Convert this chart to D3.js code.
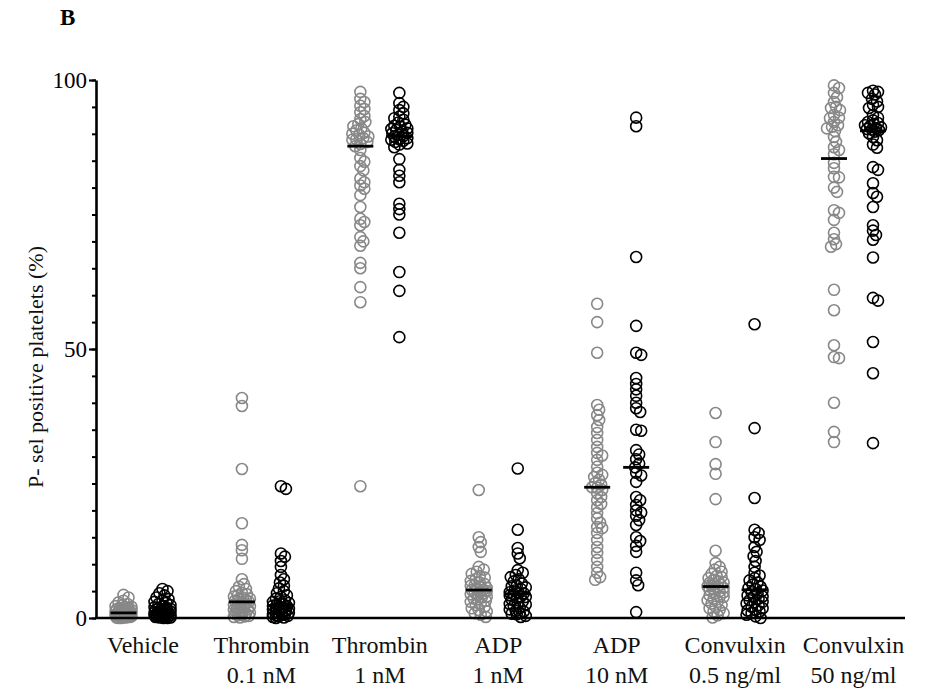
<!DOCTYPE html>
<html>
<head>
<meta charset="utf-8">
<script src="https://cdn.jsdelivr.net/npm/d3@7"></script>
<style>
  body { margin: 0; background: #fff; }
  svg text { font-family: "Times New Roman", Tinos, "Liberation Serif", "DejaVu Serif", serif; }
</style>
</head>
<body>
<svg width="925" height="693"></svg>
<script>
// categories along the x axis (two text lines each)
const categories = ["Vehicle", "Thrombin 0.1", "Thrombin 1", "ADP 1", "ADP 10", "Convulxin 0.5", "Convulxin 50"];
const labelLine1 = ["Vehicle", "Thrombin", "Thrombin", "ADP", "ADP", "Convulxin", "Convulxin"];
const labelLine2 = ["", "0.1 nM", "1 nM", "1 nM", "10 nM", "0.5 ng/ml", "50 ng/ml"];
const groups = ["gray", "black"];
const yTicks = [0, 50, 100];

// % P-selectin positive platelets
const grayValues = [
  [4.3, 3.8, 3.2, 2.9, 2.6, 2.4, 2.2, 2.0, 1.9, 1.8, 1.7, 1.6, 1.5, 1.4, 1.3, 1.2, 1.1, 1.0, 1.0, 0.9, 0.9, 0.8, 0.8, 0.7, 0.7, 0.6, 0.6, 0.5, 0.5, 0.4, 0.4, 0.3, 0.3, 0.2, 0.2, 0.1, 0.1, 0.0, 0.0, 1.5, 2.1, 1.2, 0.5, 0.3],
  [40.9, 39.4, 27.7, 17.6, 13.6, 12.6, 11.0, 7.2, 6.3, 5.8, 5.4, 5.0, 4.7, 4.4, 4.2, 4.0, 3.8, 3.6, 3.4, 3.2, 3.0, 3.0, 2.8, 2.6, 2.4, 2.2, 2.0, 1.9, 1.8, 1.6, 1.4, 1.3, 1.2, 1.0, 0.9, 0.8, 0.6, 0.5, 0.4, 0.3, 0.2, 0.1, 2.5, 3.5, 1.5],
  [97.8, 96.5, 95.9, 95.2, 94.6, 94.0, 93.3, 92.7, 92.2, 91.8, 91.4, 91.0, 90.6, 90.2, 90.0, 89.8, 89.5, 89.2, 89.0, 88.9, 88.5, 88.1, 87.7, 87.0, 85.5, 84.8, 84.0, 83.2, 81.7, 81.0, 80.4, 79.8, 78.6, 76.4, 74.2, 73.6, 73.0, 70.8, 70.0, 69.2, 66.0, 65.0, 61.5, 58.7, 24.5],
  [23.8, 15.0, 14.1, 13.2, 12.3, 9.5, 9.0, 8.6, 8.2, 7.8, 7.5, 7.2, 6.9, 6.6, 6.3, 6.0, 5.8, 5.6, 5.4, 5.2, 5.2, 5.0, 4.8, 4.6, 4.4, 4.2, 4.0, 3.8, 3.5, 3.2, 3.0, 2.7, 2.4, 2.1, 1.8, 1.5, 1.2, 0.9, 0.6, 0.2, 6.1, 4.9, 3.6],
  [58.4, 55.0, 49.3, 39.6, 38.7, 37.7, 36.8, 35.5, 34.4, 33.1, 31.8, 30.7, 29.4, 28.1, 27.0, 25.7, 25.1, 24.3, 24.2, 23.2, 21.9, 20.6, 19.5, 17.7, 16.7, 15.8, 14.5, 13.2, 12.1, 10.8, 9.5, 8.4, 7.1, 26.2, 24.8, 23.8, 22.5, 21.2, 18.5, 16.9, 7.6, 30.2, 26.6],
  [38.1, 32.7, 28.6, 26.8, 22.1, 12.5, 10.2, 9.5, 9.0, 8.6, 8.2, 7.8, 7.6, 7.4, 7.1, 6.8, 6.6, 6.5, 6.3, 6.2, 6.0, 5.9, 5.8, 5.6, 5.4, 5.2, 5.0, 4.8, 4.5, 4.2, 4.0, 3.9, 3.6, 3.3, 3.0, 2.7, 2.4, 2.1, 1.8, 1.5, 1.2, 0.9, 0.5, 0.1],
  [99.0, 98.5, 97.6, 96.8, 95.9, 95.0, 94.8, 94.4, 93.5, 93.0, 92.9, 92.2, 91.6, 91.3, 91.0, 90.5, 89.4, 88.5, 87.5, 87.0, 86.2, 84.6, 83.6, 82.0, 81.9, 80.0, 79.2, 75.8, 75.3, 74.0, 71.6, 70.4, 69.5, 69.0, 61.0, 57.2, 50.7, 48.5, 48.3, 40.0, 34.6, 32.7]
];
const blackValues = [
  [5.4, 5.0, 4.6, 4.2, 3.8, 3.5, 3.2, 3.0, 2.8, 2.6, 2.4, 2.2, 2.0, 1.9, 1.8, 1.6, 1.5, 1.4, 1.3, 1.2, 1.1, 1.0, 0.9, 0.8, 0.8, 0.7, 0.6, 0.5, 0.5, 0.4, 0.4, 0.3, 0.3, 0.2, 0.2, 0.1, 0.1, 0.0, 0.0, 1.0, 0.6, 1.7],
  [24.5, 24.0, 12.0, 11.4, 10.6, 9.5, 8.0, 7.2, 6.6, 6.0, 5.5, 5.0, 4.6, 4.2, 3.9, 3.6, 3.3, 3.0, 2.8, 2.6, 2.4, 2.2, 2.0, 1.9, 1.8, 1.6, 1.5, 1.4, 1.2, 1.1, 1.0, 0.9, 0.8, 0.7, 0.6, 0.5, 0.4, 0.3, 0.2, 0.1, 0.0, 3.1, 2.3, 1.7],
  [97.6, 95.7, 95.0, 94.4, 93.8, 93.2, 92.9, 92.6, 92.1, 91.7, 91.5, 91.3, 91.0, 90.9, 90.7, 90.4, 90.2, 90.1, 89.8, 89.6, 89.5, 89.2, 89.0, 88.9, 88.7, 88.5, 88.2, 88.0, 87.5, 85.3, 83.3, 82.2, 81.0, 77.0, 76.0, 75.0, 71.6, 64.3, 60.8, 52.2],
  [27.8, 16.4, 13.0, 12.0, 11.1, 8.9, 8.4, 8.0, 7.6, 7.2, 6.8, 6.4, 6.0, 5.7, 5.4, 5.1, 4.8, 4.6, 4.6, 4.4, 4.2, 4.0, 3.7, 3.4, 3.1, 2.8, 2.5, 2.2, 1.9, 1.6, 1.3, 1.0, 0.7, 0.4, 0.2, 5.9, 3.9, 2.6, 1.2, 0.8],
  [93.0, 91.4, 67.1, 54.3, 49.3, 48.9, 44.6, 43.5, 42.5, 41.3, 40.0, 39.0, 38.3, 35.0, 34.8, 31.2, 30.4, 29.5, 28.7, 28.0, 27.0, 26.5, 25.3, 22.5, 21.9, 21.0, 20.0, 19.6, 19.0, 18.2, 17.3, 15.0, 14.3, 13.4, 12.3, 8.4, 7.0, 6.1, 1.1],
  [54.6, 35.3, 22.3, 16.4, 15.8, 15.0, 14.5, 13.2, 12.3, 11.5, 10.6, 9.5, 8.4, 7.9, 7.4, 7.0, 6.6, 6.2, 5.8, 5.6, 5.4, 5.1, 4.8, 4.5, 4.2, 4.0, 3.9, 3.6, 3.3, 3.0, 2.9, 2.7, 2.4, 2.1, 1.8, 1.5, 1.4, 1.2, 0.9, 0.6, 0.3, 0.0],
  [98.0, 97.8, 97.6, 97.3, 96.5, 96.0, 95.4, 95.0, 94.8, 93.5, 93.0, 92.5, 92.2, 92.0, 91.8, 91.6, 91.4, 91.2, 91.0, 90.9, 90.8, 90.7, 90.4, 90.1, 89.4, 88.8, 88.0, 87.4, 83.8, 83.3, 80.8, 79.0, 78.3, 76.4, 73.0, 72.0, 71.2, 70.3, 67.0, 59.5, 59.0, 51.3, 45.5, 32.5]
];

const serif = '"Times New Roman", Tinos, "Liberation Serif", "DejaVu Serif", serif';
const groupColor = {gray: "#888", black: "#000"};
const svg = d3.select("svg");
const r = 5.5;

const x = d3.scalePoint()
    .domain(categories)
    .range([143, 853.5]);
const xg = d3.scalePoint()
    .domain(groups)
    .range([-19.5, 19.5]);
const y = d3.scaleLinear()
    .domain([0, 100])
    .range([618, 80]);

// simple beeswarm: push points sideways until they don't crowd too much
function swarm(values) {
  const pts = values.map(v => ({v, y: y(v), dx: 0})).sort((a, b) => a.y - b.y);
  const placed = [];
  const minD = 5, maxDx = 8;
  for (const p of pts) {
    let best = 0, bestScore = -Infinity;
    for (let k = 0; k <= maxDx * 2; k++) {
      const dx = (k % 2 ? 1 : -1) * Math.ceil(k / 2);
      let md = Infinity;
      for (const q of placed) {
        if (Math.abs(q.y - p.y) > minD) continue;
        md = Math.min(md, Math.hypot(q.dx - dx, q.y - p.y));
      }
      if (md >= minD) { best = dx; bestScore = md; break; }
      if (md > bestScore) { bestScore = md; best = dx; }
    }
    p.dx = best;
    placed.push(p);
  }
  return pts;
}

const series = [];
categories.forEach((c, i) => {
  series.push({cat: c, grp: "gray", values: grayValues[i]});
  series.push({cat: c, grp: "black", values: blackValues[i]});
});

svg.append("g")
  .selectAll("g.series")
  .data(series)
  .join("g")
    .attr("class", "series")
    .attr("transform", d => `translate(${x(d.cat) + xg(d.grp)},0)`)
    .each(function(d) {
      const sel = d3.select(this);
      sel.selectAll("circle")
        .data(swarm(d.values))
        .join("circle")
          .attr("cx", p => p.dx)
          .attr("cy", p => p.y)
          .attr("r", r)
          .attr("fill", "none")
          .attr("stroke", groupColor[d.grp])
          .attr("stroke-width", 1.6);
      sel.append("line")
          .attr("x1", -13)
          .attr("x2", 13)
          .attr("y1", y(d3.median(d.values)))
          .attr("y2", y(d3.median(d.values)))
          .attr("stroke", "#000")
          .attr("stroke-width", 2.8);
    });

// y axis: minor ticks every 5, labelled ticks at 0/50/100
const yMinor = svg.append("g")
    .attr("transform", "translate(96,0)")
    .call(d3.axisLeft(y).tickValues(d3.range(0, 101, 5)).tickSize(4).tickFormat(""));
yMinor.select(".domain").remove();
yMinor.selectAll("line").attr("stroke-width", 2);

const yAxis = svg.append("g")
    .attr("transform", "translate(96,0)")
    .call(d3.axisLeft(y).tickValues(yTicks).tickSize(7).tickSizeOuter(0).tickPadding(2));
yAxis.attr("font-family", serif);
yAxis.select(".domain").attr("stroke-width", 2.6);
yAxis.selectAll("line").attr("stroke-width", 2.2);
yAxis.selectAll("text")
    .style("font-family", serif)
    .attr("font-size", 23)
    .attr("fill", "#000");

// x axis baseline
svg.append("line")
    .attr("x1", 95)
    .attr("x2", 905)
    .attr("y1", y(0))
    .attr("y2", y(0))
    .attr("stroke", "#000")
    .attr("stroke-width", 2.6);

// category labels
const lab = svg.append("g")
  .selectAll("text")
  .data(categories)
  .join("text")
    .style("font-family", serif)
    .attr("text-anchor", "middle")
    .attr("font-size", 24)
    .attr("fill", "#111");
lab.append("tspan")
    .attr("x", d => x(d))
    .attr("y", 653)
    .text((d, i) => labelLine1[i]);
lab.append("tspan")
    .attr("x", d => x(d))
    .attr("y", 683)
    .text((d, i) => labelLine2[i]);

// y title
svg.append("text")
    .attr("transform", "translate(43,367) rotate(-90)")
    .style("font-family", serif)
    .attr("text-anchor", "middle")
    .attr("font-size", 22)
    .attr("fill", "#111")
    .text("P- sel positive platelets (%)");

// panel letter
svg.append("text")
    .attr("x", 60)
    .attr("y", 25)
    .style("font-family", serif)
    .attr("font-size", 23)
    .attr("font-weight", "bold")
    .text("B");
</script>
</body>
</html>
